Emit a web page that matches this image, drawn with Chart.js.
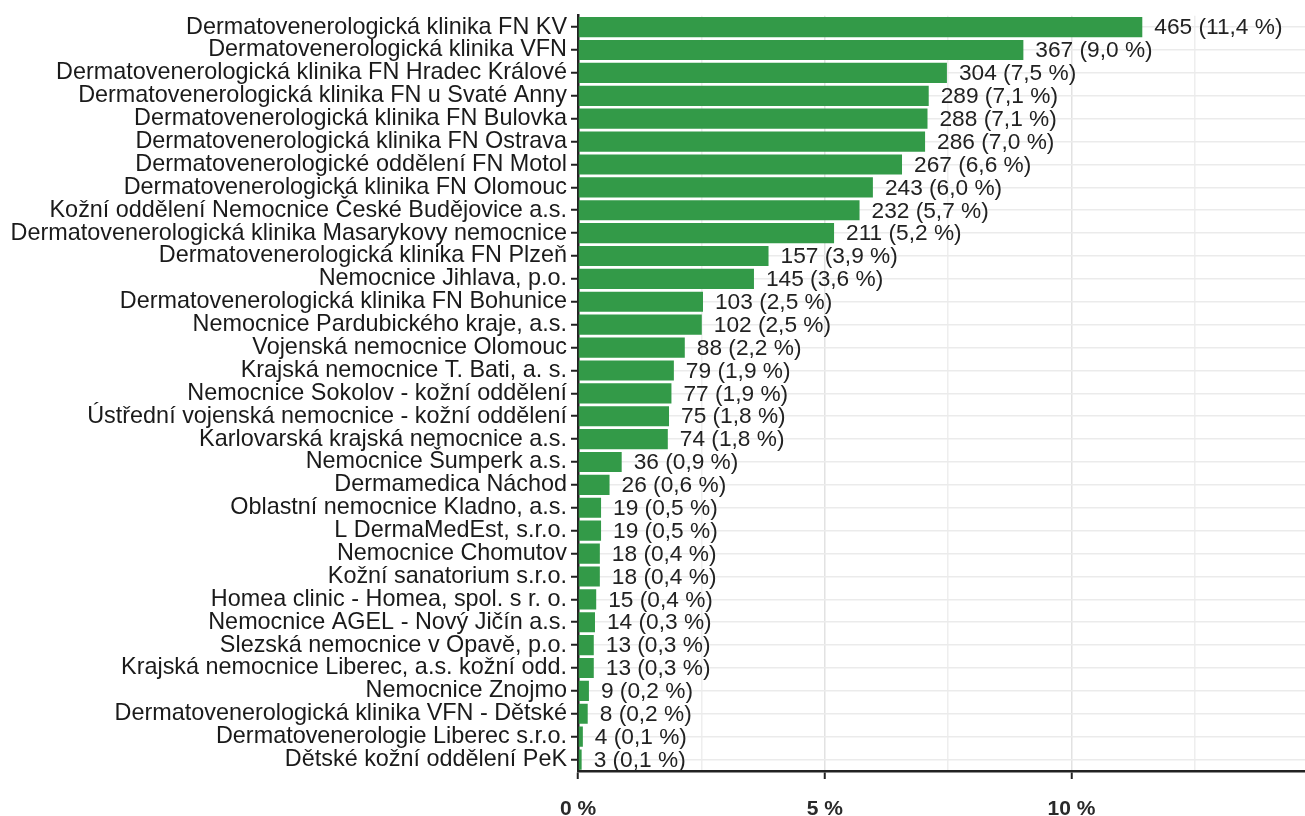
<!DOCTYPE html>
<html>
<head>
<meta charset="utf-8">
<script src="https://cdn.jsdelivr.net/npm/chart.js@4/dist/chart.umd.min.js"></script>
<style>
  html, body { margin: 0; padding: 0; background: #fff; }
</style>
</head>
<body>
<canvas id="chart" width="1305" height="816"></canvas>
<script>
// pracoviště, seřazeno podle počtu
const categories = [
  'Dermatovenerologická klinika FN KV',
  'Dermatovenerologická klinika VFN',
  'Dermatovenerologická klinika FN Hradec Králové',
  'Dermatovenerologická klinika FN u Svaté Anny',
  'Dermatovenerologická klinika FN Bulovka',
  'Dermatovenerologická klinika FN Ostrava',
  'Dermatovenerologické oddělení FN Motol',
  'Dermatovenerologická klinika FN Olomouc',
  'Kožní oddělení Nemocnice České Budějovice a.s.',
  'Dermatovenerologická klinika Masarykovy nemocnice',
  'Dermatovenerologická klinika FN Plzeň',
  'Nemocnice Jihlava, p.o.',
  'Dermatovenerologická klinika FN Bohunice',
  'Nemocnice Pardubického kraje, a.s.',
  'Vojenská nemocnice Olomouc',
  'Krajská nemocnice T. Bati, a. s.',
  'Nemocnice Sokolov - kožní oddělení',
  'Ústřední vojenská nemocnice - kožní oddělení',
  'Karlovarská krajská nemocnice a.s.',
  'Nemocnice Šumperk a.s.',
  'Dermamedica Náchod',
  'Oblastní nemocnice Kladno, a.s.',
  'L DermaMedEst, s.r.o.',
  'Nemocnice Chomutov',
  'Kožní sanatorium s.r.o.',
  'Homea clinic - Homea, spol. s r. o.',
  'Nemocnice AGEL - Nový Jičín a.s.',
  'Slezská nemocnice v Opavě, p.o.',
  'Krajská nemocnice Liberec, a.s. kožní odd.',
  'Nemocnice Znojmo',
  'Dermatovenerologická klinika VFN - Dětské',
  'Dermatovenerologie Liberec s.r.o.',
  'Dětské kožní oddělení PeK'
];

const counts = [465, 367, 304, 289, 288, 286, 267, 243, 232, 211, 157, 145, 103, 102, 88,
  79, 77, 75, 74, 36, 26, 19, 19, 18, 18, 15, 14, 13, 13, 9, 8, 4, 3];

const pctLabels = ['11,4', '9,0', '7,5', '7,1', '7,1', '7,0', '6,6', '6,0', '5,7', '5,2', '3,9',
  '3,6', '2,5', '2,5', '2,2', '1,9', '1,9', '1,8', '1,8', '0,9', '0,6', '0,5', '0,5', '0,4',
  '0,4', '0,4', '0,3', '0,3', '0,3', '0,2', '0,2', '0,1', '0,1'];

const total = counts.reduce((a, b) => a + b, 0);
const shares = counts.map(c => c / total * 100);

const FONT = '"Liberation Sans", Arial, sans-serif';

// popisky za koncem sloupců
const valueLabels = {
  id: 'valueLabels',
  afterDatasetsDraw(chart) {
    const ctx = chart.ctx;
    const meta = chart.getDatasetMeta(0);
    ctx.save();
    ctx.font = '22.7px ' + FONT;
    ctx.fillStyle = '#222';
    ctx.textAlign = 'left';
    ctx.textBaseline = 'middle';
    meta.data.forEach((bar, i) => {
      ctx.fillText(counts[i] + ' (' + pctLabels[i] + ' %)', bar.x + 12, bar.y + 1);
    });
    ctx.restore();
  }
};

new Chart(document.getElementById('chart'), {
  type: 'bar',
  data: {
    labels: categories,
    datasets: [{
      data: shares,
      backgroundColor: '#339a48',
      borderWidth: 0,
      barPercentage: 0.88,
      categoryPercentage: 1
    }]
  },
  options: {
    indexAxis: 'y',
    responsive: false,
    animation: false,
    devicePixelRatio: 1,
    layout: { padding: { top: 13.5, right: 0, left: 0, bottom: 0 } },
    plugins: {
      legend: { display: false },
      tooltip: { enabled: false }
    },
    scales: {
      x: {
        min: 0,
        max: 14.73,
        ticks: {
          stepSize: 2.5,
          includeBounds: false,
          autoSkip: false,
          maxRotation: 0,
          padding: 18,
          color: '#2a2a2a',
          font: { family: FONT, size: 21, weight: 'bold' },
          callback: v => (v % 5 === 0 ? v + ' %' : '')
        },
        grid: {
          color: c => (c.tick && c.tick.value % 5 === 0 ? '#e2e2e2' : '#eeeeee'),
          lineWidth: 1.5,
          tickLength: 8,
          tickColor: c => (c.tick && c.tick.value % 5 === 0 ? '#222' : 'rgba(0,0,0,0)'),
          tickWidth: 2
        },
        border: { color: '#222', width: 2.5 },
        afterFit: s => { s.height = 45; }
      },
      y: {
        ticks: {
          autoSkip: false,
          padding: 4,
          color: '#1a1a1a',
          font: { family: FONT, size: 23.4, lineHeight: 1 }
        },
        grid: {
          offset: false,
          color: '#ebebeb',
          lineWidth: 1.5,
          tickLength: 7,
          tickColor: '#222',
          tickWidth: 2
        },
        border: { color: '#222', width: 2.5 },
        afterFit: s => { s.width = 578; }
      }
    }
  },
  plugins: [valueLabels]
});
</script>
</body>
</html>
